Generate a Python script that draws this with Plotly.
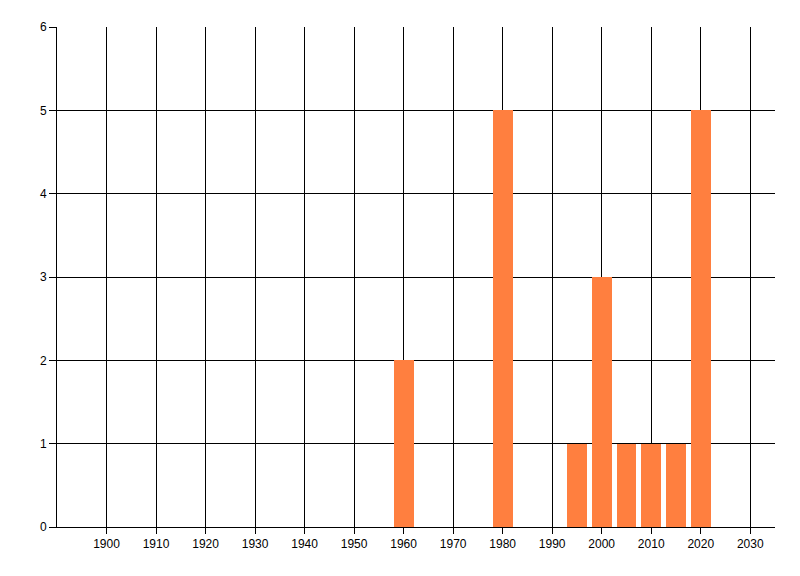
import plotly.graph_objects as go

years = [1960, 1980, 1995, 2000, 2005, 2010, 2015, 2020]
counts = [2, 5, 1, 3, 1, 1, 1, 5]
x_ticks = [1900, 1910, 1920, 1930, 1940, 1950, 1960, 1970, 1980, 1990, 2000, 2010, 2020, 2030]
y_ticks = [0, 1, 2, 3, 4, 5, 6]

fig = go.Figure(go.Bar(x=years, y=counts, width=[4] * len(years),
                       marker=dict(color="#FF7F3F", line=dict(width=0))))

font = dict(family="Liberation Sans, Arial, sans-serif", size=12, color="black")
fig.update_layout(
    width=800, height=576,
    margin=dict(l=57, r=25, t=27, b=49),
    paper_bgcolor="white", plot_bgcolor="white",
    showlegend=False, font=font,
    bargap=0,
)
fig.update_xaxes(range=[1890, 2035], tickvals=x_ticks, ticktext=[str(v) for v in x_ticks],
                 showgrid=True, gridcolor="black", gridwidth=1,
                 showline=True, linecolor="black", linewidth=1,
                 ticks="outside", ticklen=6, tickcolor="black", tickwidth=1,
                 zeroline=False, tickfont=font, automargin=False)
fig.update_yaxes(range=[0, 6], tickvals=y_ticks,
                 showgrid=True, gridcolor="black", gridwidth=1,
                 showline=True, linecolor="black", linewidth=1,
                 ticks="outside", ticklen=7, tickcolor="black", tickwidth=1,
                 zeroline=False, tickfont=font, automargin=False)

fig.write_html("out.html", config={"displayModeBar": False},
               post_script="document.body.style.margin='0';document.body.style.padding='0';")
